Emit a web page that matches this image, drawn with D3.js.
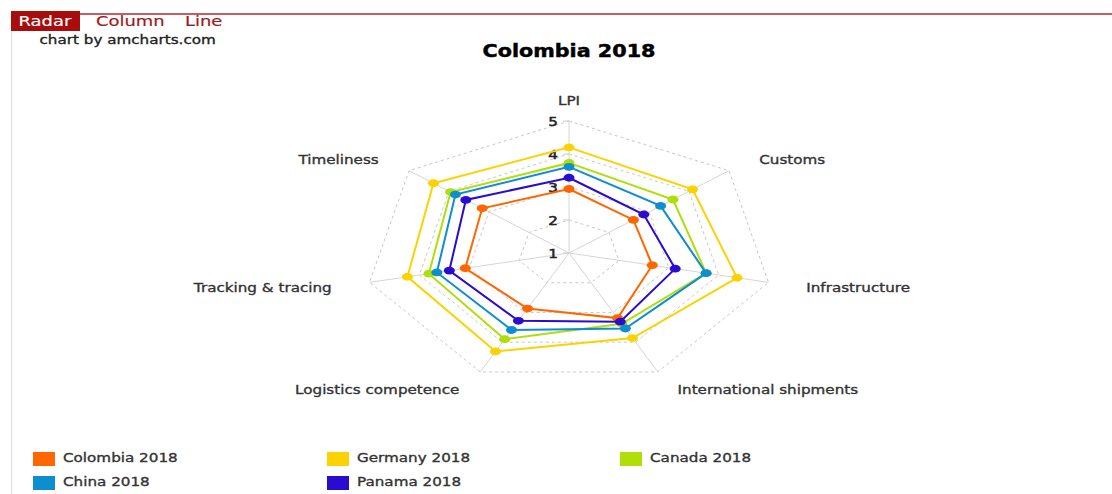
<!DOCTYPE html>
<html><head><meta charset="utf-8">
<script src="https://cdn.jsdelivr.net/npm/d3@7"></script>
<style>html,body{margin:0;padding:0;background:#fff;overflow:hidden}text{font-family:"DejaVu Sans",Verdana,sans-serif}</style>
</head><body>
<svg id="c" width="1112" height="494"></svg>
<script>
// ---- data ----
const categories = ["LPI","Customs","Infrastructure","International shipments","Logistics competence","Tracking & tracing","Timeliness"];
const seriesNames = ["Colombia 2018","Germany 2018","Canada 2018","China 2018","Panama 2018"];
const colombia = [2.94,2.61,2.67,3.19,2.87,3.08,3.17];
const germany  = [4.20,4.09,4.37,3.86,4.31,4.24,4.39];
const canada   = [3.73,3.60,3.75,3.38,3.90,3.81,3.96];
const china    = [3.61,3.29,3.75,3.54,3.59,3.65,3.84];
const panama   = [3.28,2.87,3.13,3.31,3.28,3.40,3.58];
const seriesValues = [colombia,germany,canada,china,panama];
const colors = ["#FF6600","#FCD202","#B0DE09","#0D8ECF","#2A0CD0"];
const radialTicks = [1,2,3,4,5];
const tabs = ["Radar","Column","Line"];

// ---- layout ----
const svg = d3.select("#c");
const cx = 569, cy = 253, S = 1.55, R = 132;
const TSX = 1.38, TSY = 1.12;
const rScale = d3.scaleLinear().domain([1,5]).range([0,R]);
const angle = d3.scalePoint().domain(categories).range([0, 2*Math.PI*(categories.length-1)/categories.length]);
const px = (a,r)=> cx + S*r*Math.sin(a);
const py = (a,r)=> cy - r*Math.cos(a);

function txt(g, x, y, s, opt){
  const fill = opt.fill||"#333";
  return g.append("text").attr("transform",`translate(${x},${y}) scale(${TSX},${TSY})`)
    .attr("text-anchor",opt.anchor||"start").attr("font-size",opt.size||11)
    .attr("font-weight",opt.weight||"normal").attr("fill",fill)
    .attr("stroke",fill).attr("stroke-width",opt.sw==null?0.3:opt.sw).text(s);
}

// header
svg.append("line").attr("x1",11).attr("x2",1112).attr("y1",14).attr("y2",14).attr("stroke","#b8262b").attr("stroke-width",1.5);
svg.append("line").attr("x1",11.5).attr("x2",11.5).attr("y1",31).attr("y2",494).attr("stroke","#ddd").attr("stroke-width",1);
svg.append("rect").attr("x",11).attr("y",11).attr("width",69).attr("height",20).attr("fill","#a80c0c");
const tabX = [18.5, 96, 185];
tabs.forEach((t,i)=> txt(svg, tabX[i], 26, t, {size:13, fill: i===0?"#fff":"#a01818", sw:0.15}));
txt(svg, 39.5, 43.5, "chart by amcharts.com", {size:11, fill:"#222"});
txt(svg, cx, 57, "Colombia 2018", {size:15, weight:"bold", anchor:"middle", fill:"#000", sw:0.4});

// grid
const grid = svg.append("g");
const polyLine = d3.line().x(d=>d[0]).y(d=>d[1]).curve(d3.curveLinearClosed);
radialTicks.filter(v=>v>1).forEach(v=>{
  grid.append("path").attr("d", polyLine(categories.map(c=>[px(angle(c),rScale(v)), py(angle(c),rScale(v))])))
    .attr("fill","none").attr("stroke","#c8c8c8").attr("stroke-width",1).attr("stroke-dasharray","3,3");
});
categories.forEach(c=>{
  grid.append("line").attr("x1",cx).attr("y1",cy).attr("x2",px(angle(c),R)).attr("y2",py(angle(c),R))
    .attr("stroke","#d6d6d6").attr("stroke-width",1);
});
radialTicks.forEach(v=>{
  const y = cy - rScale(v);
  grid.append("line").attr("x1",cx-6).attr("x2",cx).attr("y1",y).attr("y2",y).attr("stroke","#ccc");
  txt(grid, cx-11, y+5, String(v), {size:11, anchor:"end", fill:"#222", sw:0.45});
});

// axis titles
const Rl = 157;
categories.forEach(c=>{
  const a = angle(c), s = Math.sin(a), co = Math.cos(a);
  const anchor = Math.abs(s)<0.05 ? "middle" : (s>0 ? "start":"end");
  const dy = co>0.3 ? 9 : (co<-0.3 ? 0 : 4);
  const x = px(a,Rl) + (co<-0.3 ? (s>0 ? 3 : -4) : 0);
  txt(svg, x, py(a,Rl)+dy, c, {size:11, anchor, fill:"#333"});
});

// series
const line = d3.line().x((d,i)=>px(angle(categories[i]),rScale(d))).y((d,i)=>py(angle(categories[i]),rScale(d))).curve(d3.curveLinearClosed);
seriesValues.forEach((vals,k)=>{
  const g = svg.append("g");
  g.append("path").attr("d", line(vals)).attr("fill","none").attr("stroke",colors[k]).attr("stroke-width",2);
  g.selectAll("ellipse").data(vals).join("ellipse")
    .attr("cx",(d,i)=>px(angle(categories[i]),rScale(d)))
    .attr("cy",(d,i)=>py(angle(categories[i]),rScale(d)))
    .attr("rx",5.5).attr("ry",3.9).attr("fill",colors[k]);
});

// legend
const legX = [33, 327, 620], legY = [452, 476];
seriesNames.forEach((n,i)=>{
  const x = legX[i%3], y = legY[Math.floor(i/3)];
  svg.append("rect").attr("x",x).attr("y",y).attr("width",22).attr("height",14).attr("fill",colors[i]);
  txt(svg, x+30, y+10, n, {size:11, fill:"#333"});
});
</script>
</body></html>
